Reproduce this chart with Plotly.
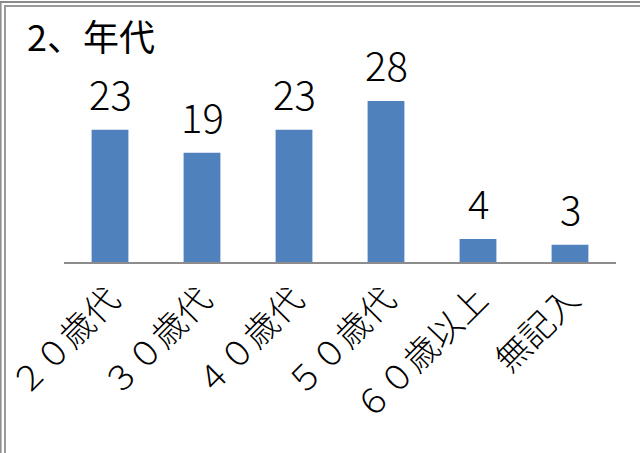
import plotly.graph_objects as go

categories = ["２０歳代", "３０歳代", "４０歳代", "５０歳代", "６０歳以上", "無記入"]
counts = [23, 19, 23, 28, 4, 3]
title_text = "2、年代"

W, H = 640, 453
ML, MR, MT, MB = 64, 24, 90, 191
PW = W - ML - MR
PH = H - MT - MB

def px_x(p):
    return (p - ML) / PW

def px_y(p):
    return 1 - (p - MT) / PH

font_family = "Noto Sans CJK JP, Noto Sans, sans-serif"

fig = go.Figure()
fig.add_trace(go.Bar(
    x=categories, y=counts,
    marker=dict(color="#4F81BD", line=dict(width=0)),
    width=0.4,
    hoverinfo="x+y",
))

for c, v in zip(categories, counts):
    fig.add_annotation(x=c, y=v, text=str(v), showarrow=False,
                       yanchor="bottom", yshift=6,
                       font=dict(size=40, color="#000000", family=font_family, weight=300))

fig.add_annotation(xref="paper", yref="paper", x=px_x(25), y=px_y(7),
                   xanchor="left", yanchor="top", text=title_text, showarrow=False,
                   font=dict(size=36, color="#000000", family=font_family, weight=400))

gray = "#8a8a8a"
fig.add_shape(type="line", xref="paper", yref="paper", x0=px_x(0.5), x1=px_x(W), y0=px_y(2), y1=px_y(2),
              line=dict(color=gray, width=2))
fig.add_shape(type="line", xref="paper", yref="paper", x0=px_x(0.8), x1=px_x(0.8), y0=px_y(1), y1=px_y(H),
              line=dict(color=gray, width=1.5))
fig.add_shape(type="line", xref="paper", yref="paper", x0=px_x(5), x1=px_x(W), y0=px_y(6), y1=px_y(6),
              line=dict(color="#9a9a9a", width=2))
fig.add_shape(type="line", xref="paper", yref="paper", x0=px_x(5), x1=px_x(5), y0=px_y(5), y1=px_y(H),
              line=dict(color="#9a9a9a", width=2))

fig.update_layout(
    width=W, height=H,
    margin=dict(l=ML, r=MR, t=MT, b=MB, autoexpand=False),
    paper_bgcolor="white", plot_bgcolor="white",
    showlegend=False,
    bargap=0.6,
    font=dict(family=font_family, color="#000000"),
)
fig.update_xaxes(showline=True, linecolor="#8c8c8c", linewidth=2, showgrid=False,
                 ticks="", tickangle=-45, ticklabelstandoff=2,
                 tickfont=dict(size=34, family=font_family, color="#000000", weight=300),
                 automargin=False)
fig.update_yaxes(range=[0, PH / 5.75], visible=False, showgrid=False, zeroline=False)

fig.write_html("out.html", config={"displayModeBar": False},
               post_script="document.body.style.margin='0';document.body.style.overflow='hidden';")
